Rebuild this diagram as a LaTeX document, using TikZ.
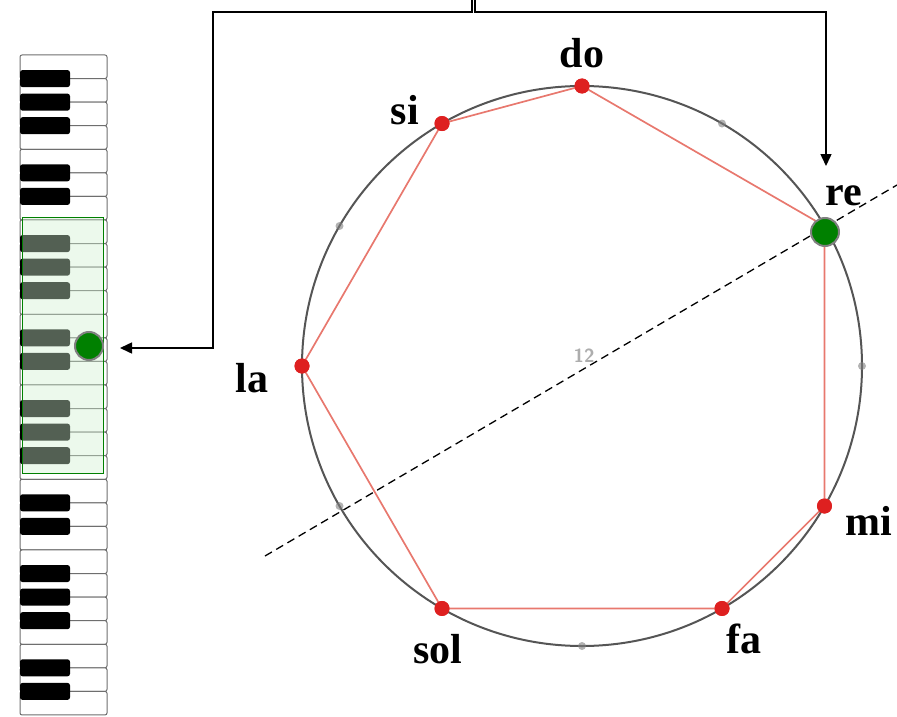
\documentclass[tikz,border=0pt]{standalone}
\usepackage{fontspec}
\setmainfont{Liberation Serif}
\usetikzlibrary{calc,arrows.meta}
\definecolor{circ}{RGB}{85,85,85}
\definecolor{polyred}{RGB}{232,120,110}
\definecolor{dotred}{RGB}{222,32,32}
\definecolor{gdot}{RGB}{0,128,0}
\definecolor{gfill}{RGB}{208,242,208}
\definecolor{keyline}{RGB}{110,110,110}
\tikzset{
 wkey/.style={fill=white, draw=keyline, line width=1pt, rounded corners=2pt},
 bkey/.style={fill=black, rounded corners=2.5pt},
 gbox/.style={fill=gfill, fill opacity=0.4, draw=gdot, line width=1pt},
 conn/.style={draw=black, line width=1.5pt, -{Triangle[length=12pt,width=11pt]}},
 rdot/.style={circle, fill=dotred, minimum size=15pt, inner sep=0},
 gnode/.style={circle, fill=gdot, draw=gray, line width=2pt, minimum size=28pt, inner sep=0},
 mk/.style={circle, fill=gray, minimum size=8pt, inner sep=0, opacity=0.6},
 lab/.style={font=\fontsize{42}{42}\selectfont\bfseries, anchor=base, inner sep=0},
 ringst/.style={circle, draw=circ, line width=2pt, minimum size=560pt, inner sep=0},
 poly/.style={draw=polyred, line width=1.7pt, line join=round},
 axis/.style={draw=black, dash pattern=on 8pt off 5pt, line width=1.3pt},
}
\begin{document}
\begin{tikzpicture}[x=1pt,y=-1pt]
\useasboundingbox (0,0) rectangle (897,717);
% keyboard
\def\kh{23.57}
\foreach \k in {0,...,27} {
  \draw[wkey] (20,{55+\k*\kh}) rectangle (107,{55+(\k+1)*\kh});
}
\foreach \k in {1,2,3,5,6,8,9,10,12,13,15,16,17,19,20,22,23,24,26,27} {
  \fill[bkey] (20,{55+\k*\kh-8.5}) rectangle (70,{55+\k*\kh+8.5});
}
\path[gbox] (22,217) rectangle (103,473);
\node[gnode] (kdot) at (89,346) {};
% circle
\coordinate (C) at (582,366);
\node[ringst] (ring) at (C) {};
\foreach \k in {1,3,6,8,10} {
  \node[mk] (m\k) at ($(C)+({30*\k-90}:280)$) {};
}
\node[text=gray!80, font=\sffamily\bfseries\fontsize{19}{19}\selectfont, opacity=0.8] (twelve) at (584,356) {12};
\node[rdot] (do)  at ($(C)+(-90:280)$) {};
\node[rdot] (re)  at ($(C)+(-30:280)$) {};
\node[rdot] (mi)  at ($(C)+(30:280)$) {};
\node[rdot] (fa)  at ($(C)+(60:280)$) {};
\node[rdot] (sol) at ($(C)+(120:280)$) {};
\node[rdot] (la)  at ($(C)+(180:280)$) {};
\node[rdot] (si)  at ($(C)+(240:280)$) {};
\draw[poly] (do.center) -- (re.center) -- (mi.center) -- (fa.center) -- (sol.center) -- (la.center) -- (si.center) -- cycle;
\foreach \n in {do,mi,fa,sol,la,si} { \node[rdot] at (\n) {}; }
% axis
\coordinate (dA) at (265,556);
\coordinate (dB) at (897,185);
\draw[axis] (dA) -- (dB);
\node[gnode] (redot) at (825,232) {};
% labels
\node[lab] (ldo)  at (582,67)  {do};
\node[lab] (lsi)  at (405,124) {si};
\node[lab] (lre)  at (844,205) {re};
\node[lab] (lla)  at (252,392) {la};
\node[lab] (lmi)  at (869,535) {mi};
\node[lab] (lfa)  at (744,653) {fa};
\node[lab] (lsol) at (438,663) {sol};
% connectors
\coordinate (src1) at (472,0);
\coordinate (src2) at (475,0);
\coordinate (kin) at (120,348);
\coordinate (rin) at (826,166);
\draw[conn] (src1) |- (213,12) |- (kin);
\draw[conn] (src2) -- ++(0,12) -| (rin);
\end{tikzpicture}
\end{document}
